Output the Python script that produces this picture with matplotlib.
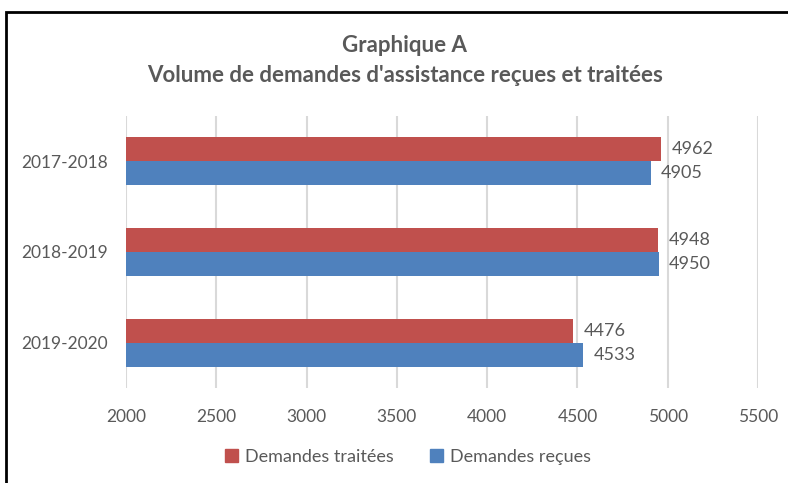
import numpy as np
import matplotlib
matplotlib.use('Agg')
import matplotlib.pyplot as plt
from matplotlib.patches import Rectangle, Patch

periodes = ['2017-2018', '2018-2019', '2019-2020']
traitees = [4962, 4948, 4476]
recues = [4905, 4950, 4533]
xticks = [2000, 2500, 3000, 3500, 4000, 4500, 5000, 5500]

rouge = '#C0504D'
bleu = '#4F81BD'
gris = '#595959'

plt.rcParams['font.family'] = ['Lato', 'DejaVu Sans']

fig = plt.figure(figsize=(7.88, 4.83), dpi=100)
ax = fig.add_axes([126/788, 1-388/483, 632/788, 272/483])

y = np.arange(len(periodes))[::-1]
h = 0.265
ax.barh(y + h/2, np.array(traitees) - 2000, left=2000, height=h, color=rouge, zorder=3)
ax.barh(y - h/2, np.array(recues) - 2000, left=2000, height=h, color=bleu, zorder=3)

for yy, v in zip(y + h/2, traitees):
    ax.annotate(str(v), (v, yy), xytext=(7.5, 0), textcoords='offset points',
                va='center', ha='left', fontsize=13, color=gris)
for yy, v in zip(y - h/2, recues):
    ax.annotate(str(v), (v, yy), xytext=(7.5, 0), textcoords='offset points',
                va='center', ha='left', fontsize=13, color=gris)

ax.set_xlim(2000, 5500)
ax.set_ylim(-0.5, 2.5)
ax.set_xticks(xticks)
ax.set_yticks(y)
ax.set_yticklabels(periodes)
ax.xaxis.grid(True, color='#d9d9d9', lw=1.5, zorder=0)
ax.set_axisbelow(True)
for s in ax.spines.values():
    s.set_visible(False)
ax.tick_params(length=0, labelsize=12.5, labelcolor=gris)
ax.tick_params(axis='x', pad=15)
ax.tick_params(axis='y', pad=13)

fig.text(405/788, 1-45/483, 'Graphique A', ha='center', va='center',
         fontsize=16, fontweight='bold', color=gris)
fig.text(405/788, 1-75/483, "Volume de demandes d'assistance reçues et traitées",
         ha='center', va='center', fontsize=16, fontweight='bold', color=gris)

handles = [Patch(color=rouge, label='Demandes traitées'),
           Patch(color=bleu, label='Demandes reçues')]
fig.legend(handles=handles, loc='center', bbox_to_anchor=(408/788, 1-457/483),
           ncol=2, frameon=False, fontsize=13, labelcolor=gris,
           handlelength=0.7, handleheight=0.7, handletextpad=0.4, columnspacing=2.0)

fig.patches.append(Rectangle((6/788, -0.1), 1.2, 1-12/483+0.1, transform=fig.transFigure,
                             fill=False, edgecolor='black', lw=2, clip_on=False))

fig.savefig('out.png', dpi=100)
